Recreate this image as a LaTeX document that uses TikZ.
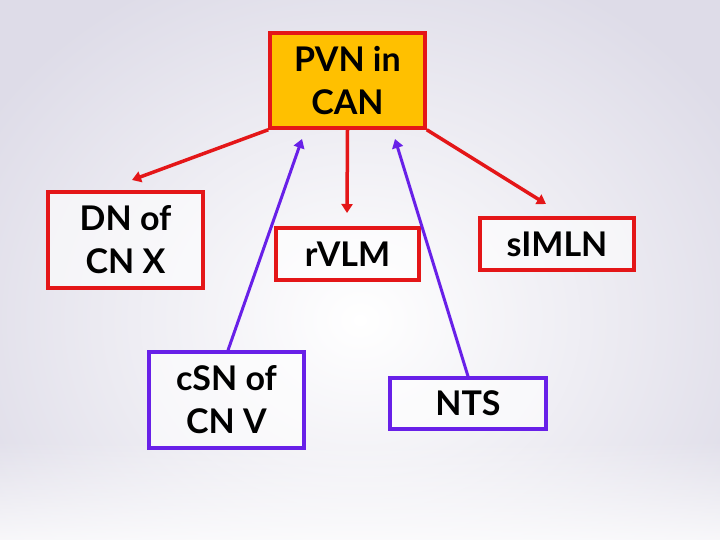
\documentclass[tikz,border=0pt]{standalone}
\usepackage{fontspec}
\setmainfont{Lato}
\usepackage{tikz}
\usetikzlibrary{positioning,arrows.meta,calc,fadings}
\definecolor{netRed}{RGB}{228,22,24}
\definecolor{netGold}{RGB}{255,192,0}
\definecolor{netViolet}{RGB}{104,32,232}
\definecolor{netHaze}{RGB}{222,220,232}

\begin{document}
\begin{tikzpicture}[x=1pt, y=-1pt,
  nucleus/.style={draw=netRed, line width=3.5pt, fill=white, fill opacity=0.6, text opacity=1,
    align=center, font=\fontsize{34}{43}\selectfont\bfseries, inner sep=0pt},
  afferent/.style={nucleus, draw=netViolet},
  outflow/.style={draw=netRed, line width=3.5pt, -{Triangle[length=9pt,width=11pt]}},
  inflow/.style={draw=netViolet, line width=3pt, -{Triangle[length=9pt,width=11pt]}}]
  \useasboundingbox (0,0) rectangle (720,540);
  \fill[netHaze] (0,0) rectangle (720,540);
  \shade[inner color=white, outer color=netHaze] (-80,-60) rectangle (800,700);
  \fill[white, path fading=north, opacity=0.8] (0,440) rectangle (720,540);

  % nuclei
  \node[nucleus, fill=netGold, fill opacity=1, minimum width=155pt, minimum height=95pt] (pvn) at (347.5,80.5) {PVN in\\CAN};
  \node[nucleus, minimum width=155pt, minimum height=96pt] (dn) at (125.5,240) {DN of\\CN X};
  \node[nucleus, minimum width=143pt, minimum height=52pt] (rvlm) at (347.5,254) {rVLM};
  \node[nucleus, minimum width=154pt, minimum height=52pt] (simln) at (557,244) {sIMLN};
  \node[afferent, minimum width=155pt, minimum height=96pt] (csn) at (226.5,400) {cSN of\\CN V};
  \node[afferent, minimum width=156pt, minimum height=51pt] (nts) at (468,403.5) {NTS};

  % arrow ends
  \coordinate (toDn) at (132,180);
  \coordinate (toRvlm) at (347,213);
  \coordinate (toSimln) at (546,204);
  \coordinate (fromCsn) at (302,139);
  \coordinate (fromNts) at (395,139);

  \draw[outflow] (pvn.south west) -- (toDn);
  \draw[outflow] (pvn.south) -- (toRvlm);
  \draw[outflow] (pvn.south east) -- (toSimln);
  \draw[inflow] ([xshift=1.5pt]csn.north) -- (fromCsn);
  \draw[inflow] (nts.north) -- (fromNts);
\end{tikzpicture}
\end{document}
